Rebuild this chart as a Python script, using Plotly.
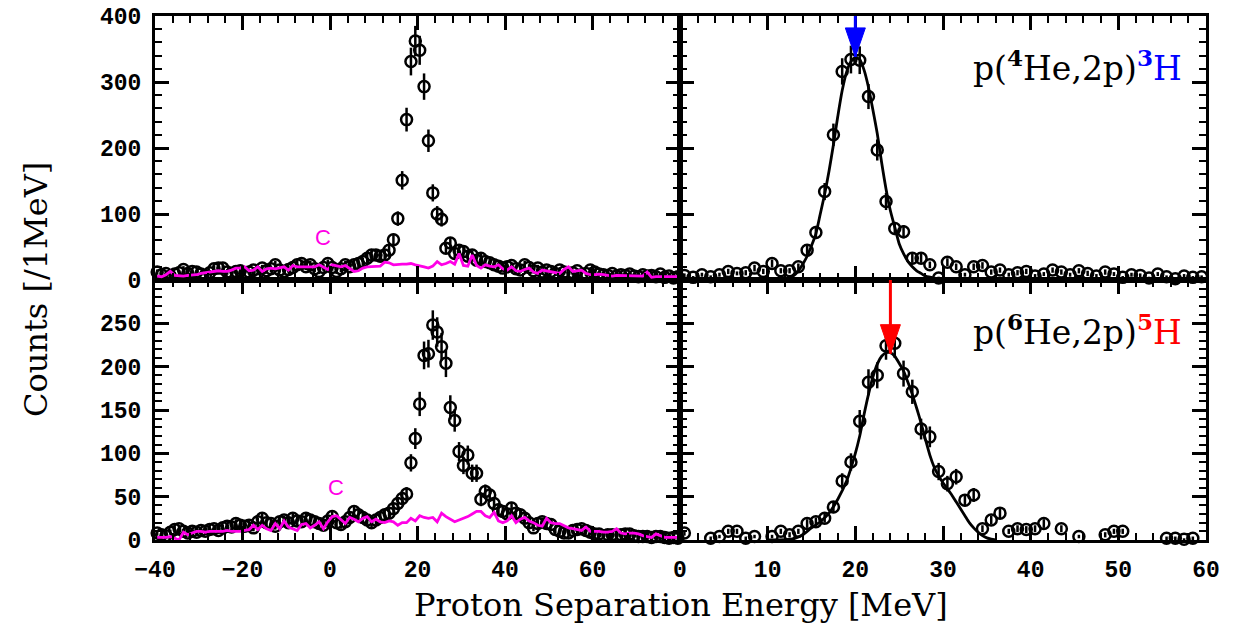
import numpy as np
import plotly.graph_objects as go

# ---------------- data ----------------
# 1 MeV bins for the inclusive spectra (left column), -40 .. 80 MeV
left_energy = np.arange(-39.5, 80.0, 1.0)
# 1 MeV bins for the background-subtracted spectra (right column), 0 .. 60 MeV
right_energy = np.arange(0.5, 60.0, 1.0)

he4_counts = [12, 8, 10, 6, 9, 11, 16, 10, 13, 12,
              9, 7, 11, 17, 18, 18, 12, 10, 13, 14,
              10, 12, 15, 11, 18, 14, 17, 23, 15, 13,
              16, 19, 23, 25, 20, 23, 17, 13, 19, 25,
              19, 13, 17, 23, 20, 23, 25, 28, 33, 38,
              38, 36, 38, 45, 61, 93, 151, 243, 331, 362,
              348, 293, 211, 132, 100, 92, 48, 56, 40, 45,
              43, 36, 38, 30, 33, 28, 26, 23, 21, 18,
              20, 22, 17, 15, 23, 19, 14, 18, 12, 15,
              13, 10, 15, 12, 9, 11, 14, 8, 10, 15,
              12, 9, 8, 7, 10, 6, 8, 7, 9, 6,
              5, 8, 6, 7, 5, 9, 4, 6, 3, 5]
he4_err = [4, 3, 4, 3, 3, 4, 5, 4, 4, 4,
           3, 3, 4, 5, 5, 5, 4, 4, 4, 4,
           4, 4, 4, 4, 5, 4, 5, 6, 4, 4,
           5, 5, 6, 6, 5, 6, 5, 4, 5, 6,
           5, 4, 5, 6, 5, 6, 6, 6, 7, 7,
           7, 7, 7, 8, 9, 11, 14, 18, 21, 23,
           22, 20, 17, 13, 12, 11, 8, 9, 7, 8,
           8, 7, 7, 6, 7, 6, 6, 6, 5, 5,
           5, 5, 5, 4, 6, 5, 4, 5, 4, 4,
           4, 4, 4, 4, 3, 4, 4, 3, 4, 4,
           4, 3, 3, 3, 4, 3, 3, 3, 3, 3,
           3, 3, 3, 3, 3, 3, 2, 3, 2, 3]
he4_carbon = [6, 5, 8, 13, 7, 6, 6, 7, 7, 8,
              10, 11, 12, 13, 14, 13, 13, 15, 18, 18,
              20, 14, 15, 20, 13, 17, 18, 17, 18, 20,
              15, 22, 20, 20, 20, 21, 20, 23, 20, 16,
              23, 21, 20, 22, 18, 13, 14, 18, 20, 20,
              20, 21, 27, 26, 23, 24, 24, 24, 25, 23,
              22, 20, 18, 21, 28, 23, 25, 28, 24, 40,
              22, 21, 38, 22, 18, 23, 21, 20, 23, 17,
              15, 20, 14, 13, 16, 18, 12, 10, 15, 14,
              12, 11, 10, 16, 20, 13, 14, 15, 10, 8,
              8, 9, 8, 7, 6, 7, 7, 6, 6, 6,
              6, 6, 12, 4, 5, 5, 5, 5, 5, 5]

he6_counts = [8, 6, 5, 9, 12, 13, 10, 8, 10, 9,
              11, 10, 12, 13, 11, 14, 16, 15, 19, 17,
              16, 17, 14, 21, 25, 20, 19, 16, 21, 23,
              20, 25, 22, 21, 25, 23, 21, 19, 17, 22,
              27, 20, 18, 21, 26, 33, 29, 26, 23, 20,
              23, 26, 29, 31, 36, 42, 48, 53, 89, 117,
              157, 213, 215, 248, 240, 223, 204, 153, 138, 102,
              86, 98, 77, 77, 47, 56, 52, 42, 35, 33,
              30, 37, 31, 29, 25, 20, 14, 19, 21, 19,
              18, 12, 10, 8, 8, 11, 12, 13, 11, 9,
              7, 7, 5, 6, 6, 5, 6, 7, 7, 5,
              4, 4, 4, 3, 4, 4, 3, 2, 3, 2]
he6_err = [3, 3, 3, 3, 4, 4, 3, 3, 3, 3,
           4, 3, 4, 4, 4, 4, 4, 4, 5, 5,
           4, 5, 4, 5, 5, 5, 5, 4, 5, 5,
           5, 5, 5, 5, 5, 5, 5, 5, 5, 5,
           6, 5, 5, 5, 6, 6, 6, 6, 5, 5,
           5, 6, 6, 6, 7, 7, 8, 8, 10, 12,
           14, 16, 16, 17, 17, 16, 16, 14, 13, 11,
           10, 11, 10, 10, 8, 8, 8, 7, 7, 6,
           6, 7, 6, 6, 6, 5, 4, 5, 5, 5,
           5, 4, 4, 3, 3, 4, 4, 4, 4, 3,
           3, 3, 3, 3, 3, 3, 3, 3, 3, 3,
           2, 2, 2, 2, 2, 2, 2, 2, 2, 2]
he6_carbon = [3, 3, 3, 4, 2, 0, 9, 6, 8, 10,
              10, 9, 10, 10, 10, 10, 11, 10, 10, 10,
              11, 12, 17, 12, 17, 13, 11, 19, 13, 22,
              15, 13, 11, 18, 19, 14, 17, 21, 13, 21,
              27, 28, 24, 19, 26, 24, 21, 25, 27, 21,
              24, 21, 20, 22, 21, 17, 20, 20, 25, 22,
              28, 26, 25, 26, 21, 31, 27, 24, 21, 23,
              25, 27, 30, 33, 33, 28, 26, 32, 22, 20,
              22, 28, 20, 24, 26, 22, 20, 17, 16, 25,
              20, 19, 19, 16, 14, 13, 12, 11, 15, 10,
              10, 10, 9, 9, 10, 13, 8, 7, 8, 8,
              7, 5, 4, 3, 7, 5, 3, 3, 3, 3]

h3_counts = [7, 4, 8, 5, 8, 13, 10, 11, 18, 13,
             25, 14, 14, 20, 45, 72, 134, 220, 316, 334,
             333, 278, 197, 119, 78, 73, 33, 33, 23, 3,
             27, 20, 8, 20, 22, 12, 15, 8, 11, 13,
             6, 9, 15, 12, 8, 14, 10, 6, 12, 9,
             4, 8, 7, 3, 9, 5, 2, 6, 4, 5]
h3_err = [3, 2, 3, 2, 3, 4, 3, 4, 5, 4,
          6, 4, 4, 5, 8, 10, 13, 17, 20, 21,
          21, 19, 16, 13, 10, 10, 7, 7, 5, 2,
          6, 5, 3, 5, 5, 4, 4, 3, 4, 4,
          3, 3, 4, 4, 3, 4, 4, 3, 4, 3,
          2, 3, 3, 2, 3, 2, 2, 3, 2, 2]
h3_fit_e = [0, 2, 4, 6, 8, 10, 11, 12, 12.5, 13, 13.5, 14, 14.5, 15, 15.5,
            16, 16.5, 17, 17.5, 18, 18.5, 19, 19.5, 20, 20.5, 21, 21.5, 22,
            22.5, 23, 23.5, 24, 24.5, 25, 25.5, 26, 26.5, 27, 27.5, 28, 29,
            30, 31, 32, 35, 40, 45, 50, 55, 60]
h3_fit = [0.5, 0.5, 0.5, 0.5, 0.5, 1, 1, 2, 3, 7, 14, 24, 36, 52, 70,
          100, 130, 165, 205, 248, 287, 315, 331, 337, 334, 318, 292, 258,
          222, 178, 138, 105, 80, 55, 40, 28, 20, 14, 10, 6, 3,
          1.5, 1, 1, 0.5, 0.5, 0.5, 0.5, 0.5, 0.5]

h5_counts = [8, None, None, 2, 4, 10, 10, 2, 4, None,
             4, 10, 6, 10, 19, 21, 25, 38, 68, 90,
             137, 182, 190, 224, 227, 192, 171, 128, 119, 79,
             65, 73, 46, 52, 13, 23, 31, 10, 13, 12,
             13, 19, None, 13, None, 4, None, None, 6, 10,
             10, None, None, None, None, 2, 2, 1, 2, None]
h5_err = [3, 0, 0, 2, 2, 3, 3, 2, 2, 0,
          2, 3, 3, 3, 5, 5, 5, 7, 9, 10,
          13, 15, 15, 16, 17, 15, 14, 12, 12, 10,
          9, 9, 7, 8, 4, 5, 6, 3, 4, 4,
          4, 5, 0, 4, 0, 2, 0, 0, 3, 3,
          3, 0, 0, 0, 0, 2, 2, 1, 2, 0]
h5_fit_e = [10, 12, 13, 14, 15, 16, 17, 18, 19, 20, 20.5, 21, 21.5, 22, 22.5,
            23, 23.5, 24, 24.5, 25, 25.5, 26, 26.5, 27, 27.5, 28, 28.5, 29,
            29.5, 30, 30.5, 31, 31.5, 32, 32.5, 33, 33.5, 34, 34.5, 35, 35.5, 36]
h5_fit = [0, 0.5, 1.5, 6, 14, 21, 31, 47, 68, 100, 120, 145, 168, 188, 203,
          212, 216, 216, 212, 204, 195, 182, 168, 152, 135, 116, 98, 84,
          74, 66, 59, 52, 44, 36, 28, 20, 14, 9, 5, 2.5, 1, 0]

# ground-state positions marked by arrows (energy, arrow-tip height)
arrow_energy = [20, 24]
arrow_tip = [338, 215]

# ---------------- styling ----------------
MAGENTA = "#ff00e6"
BLUE = "#0000ff"
RED = "#ff0000"
TICK_FONT = dict(family="Liberation Mono", size=23, color="black", weight="bold")
TITLE_FONT = dict(family="DejaVu Serif", size=32, color="black")
LABEL_FONT = dict(family="DejaVu Serif", size=33, color="black")

W, H = 1236, 628
xl = (155 / W, 680 / W)
xr = (680 / W, 1206 / W)
yt = ((H - 280) / H, (H - 16) / H)
yb = ((H - 540) / H, (H - 280) / H)


def frame_axis(domain, rng, tickvals, ticktext, minor_dtick, show_labels, anchor):
    return dict(
        domain=domain, range=rng, anchor=anchor,
        showline=True, linewidth=3, linecolor="black", mirror="ticks",
        ticks="inside", ticklen=14, tickwidth=2.5, tickcolor="black",
        tickmode="array", tickvals=tickvals, ticktext=ticktext,
        showticklabels=show_labels, tickfont=TICK_FONT, ticklabelstandoff=6,
        minor=dict(ticks="inside", ticklen=7, tickwidth=2, tickcolor="black",
                   tickmode="linear", tick0=0, dtick=minor_dtick, showgrid=False),
        showgrid=False, zeroline=False, fixedrange=True, automargin=False,
    )


lx_vals = [-40, -20, 0, 20, 40, 60, 80]
lx_text = ["\u221240", "\u221220", "0", "20", "40", "60", ""]
rx_vals = [0, 10, 20, 30, 40, 50, 60]
rx_text = [str(v) for v in rx_vals]
ty_vals = [0, 100, 200, 300, 400]
ty_text = [str(v) for v in ty_vals]
by_vals = [0, 50, 100, 150, 200, 250, 300]
by_text = ["0", "50", "100", "150", "200", "250", ""]

fig = go.Figure()


def add_data(x, y, err, xa, ya):
    fig.add_trace(go.Scatter(
        x=x, y=y, mode="markers", xaxis=xa, yaxis=ya, cliponaxis=False,
        marker=dict(symbol="circle-open", size=11, color="black",
                    line=dict(width=2.5, color="black")),
        error_y=dict(type="data", array=err, thickness=2.5, width=0, color="black"),
        showlegend=False, hoverinfo="skip"))


def add_line(x, y, color, xa, ya, shape="linear"):
    fig.add_trace(go.Scatter(
        x=x, y=y, mode="lines", xaxis=xa, yaxis=ya,
        line=dict(color=color, width=2.8, shape=shape, smoothing=0.6),
        showlegend=False, hoverinfo="skip"))


# top-left: 4He inclusive, top-right: 3H, bottom-left: 6He inclusive, bottom-right: 5H
add_data(left_energy, he4_counts, he4_err, "x3", "y3")
add_line(left_energy, he4_carbon, MAGENTA, "x3", "y3")
add_data(right_energy, h3_counts, h3_err, "x4", "y4")
add_line(h3_fit_e, h3_fit, "black", "x4", "y4", "spline")
add_data(left_energy, he6_counts, he6_err, "x", "y")
add_line(left_energy, he6_carbon, MAGENTA, "x", "y")
add_data(right_energy, h5_counts, h5_err, "x2", "y2")
add_line(h5_fit_e, h5_fit, "black", "x2", "y2", "spline")

# arrows: shaft from the panel top down to the tip, plus a filled head
shapes = []
for e, tip, col, xa, ya, top in [(arrow_energy[0], arrow_tip[0], BLUE, "x4", "y4", 400),
                                 (arrow_energy[1], arrow_tip[1], RED, "x2", "y2", 300)]:
    shapes.append(dict(type="line", xref=xa, yref=ya, x0=e, x1=e, y0=top, y1=tip,
                       line=dict(color=col, width=3)))
    shapes.append(dict(type="path", xref=xa, yref=ya, xsizemode="pixel", ysizemode="pixel",
                       xanchor=e, yanchor=tip, path="M-10,29 L10,29 L0,0 Z",
                       fillcolor=col, line=dict(color=col, width=1)))

annotations = [
    dict(text="C", x=-1.6, y=65, xref="x3", yref="y3", showarrow=False,
         xanchor="center", yanchor="middle",
         font=dict(family="Liberation Sans", size=22, color=MAGENTA)),
    dict(text="C", x=1.3, y=61, xref="x", yref="y", showarrow=False,
         xanchor="center", yanchor="middle",
         font=dict(family="Liberation Sans", size=22, color=MAGENTA)),
    dict(text="p(<sup><b>4</b></sup>He,2p)<span style='color:%s'><sup><b>3</b></sup>H</span>" % BLUE,
         x=1184 / W, y=(H - 66) / H, xref="paper", yref="paper", xanchor="right", yanchor="middle",
         showarrow=False, font=LABEL_FONT),
    dict(text="p(<sup><b>6</b></sup>He,2p)<span style='color:%s'><sup><b>5</b></sup>H</span>" % RED,
         x=1184 / W, y=(H - 330) / H, xref="paper", yref="paper", xanchor="right", yanchor="middle",
         showarrow=False, font=LABEL_FONT),
    dict(text="Counts [/1MeV]", x=36 / W, y=(H - 290) / H, xref="paper", yref="paper",
         xanchor="center", yanchor="middle",
         textangle=-90, showarrow=False, font=TITLE_FONT),
    dict(text="Proton Separation Energy [MeV]", x=681 / W, y=(H - 605) / H,
         xref="paper", yref="paper", xanchor="center", yanchor="middle",
         showarrow=False, font=TITLE_FONT),
]

fig.update_layout(
    width=W, height=H, margin=dict(l=0, r=0, t=0, b=0, pad=0, autoexpand=False),
    paper_bgcolor="white", plot_bgcolor="white", showlegend=False,
    xaxis=frame_axis(xl, [-40, 80], lx_vals, lx_text, 4, True, "y"),
    yaxis=frame_axis(yb, [0, 300], by_vals, by_text, 10, True, "x"),
    xaxis2=frame_axis(xr, [0, 60], rx_vals, rx_text, 2, True, "y2"),
    yaxis2=frame_axis(yb, [0, 300], by_vals, by_text, 10, False, "x2"),
    xaxis3=frame_axis(xl, [-40, 80], lx_vals, lx_text, 4, False, "y3"),
    yaxis3=frame_axis(yt, [0, 400], ty_vals, ty_text, 20, True, "x3"),
    xaxis4=frame_axis(xr, [0, 60], rx_vals, rx_text, 2, False, "y4"),
    yaxis4=frame_axis(yt, [0, 400], ty_vals, ty_text, 20, False, "x4"),
    shapes=shapes, annotations=annotations,
)

fig.write_html("out.html")
